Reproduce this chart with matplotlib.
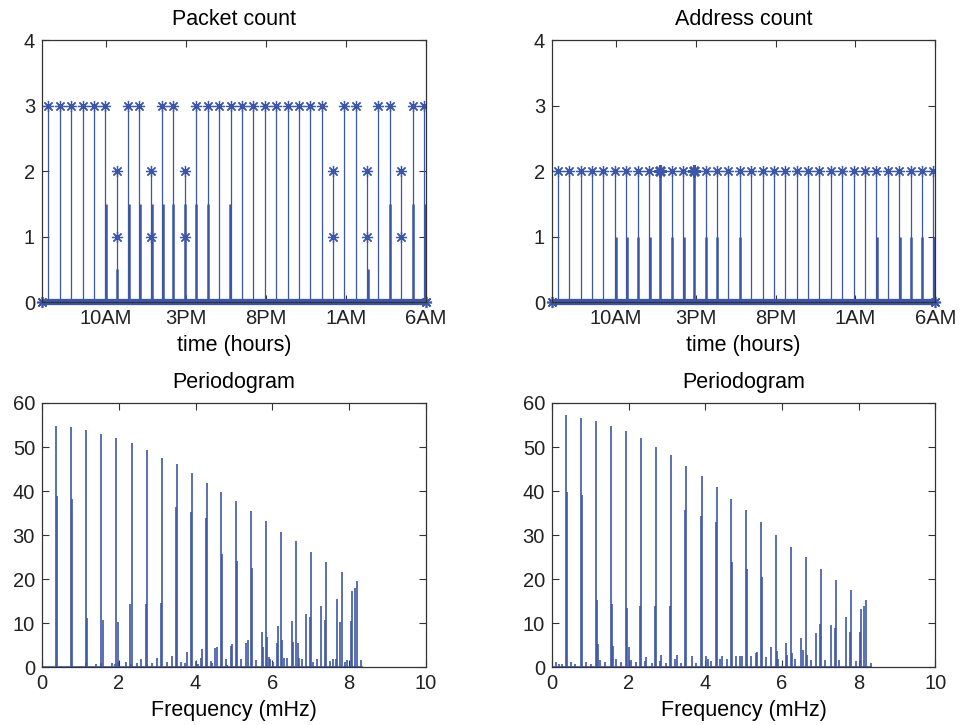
import numpy as np
import matplotlib
matplotlib.use('Agg')
import matplotlib.pyplot as plt

plt.rcParams['font.family'] = ['Liberation Sans', 'DejaVu Sans']
plt.rcParams['font.size'] = 15

BLUE = '#3d57a8'

# ---- time-domain data (hours after 6AM) ----
tick_hours = [4, 9, 14, 19, 24]
tick_names = ['10AM', '3PM', '8PM', '1AM', '6AM']

# packet count: bursts of 3 packets
pkt_t3 = [0.396, 1.125, 1.813, 2.542, 3.25, 3.958, 5.375, 6.083, 7.5, 8.208,
          9.646, 10.354, 11.083, 11.792, 12.5, 13.208, 13.938, 14.646, 15.354,
          16.063, 16.771, 17.479, 18.896, 19.604, 21.021, 21.729, 23.167, 23.875]
# bursts split as 2 + 1 packets
pkt_t2 = [4.667, 6.792, 8.938, 18.188, 20.313, 22.458]
# partial stems (no marker) visible next to the bursts
pkt_tail_t = [4.0, 5.417, 6.125, 6.854, 7.542, 8.208, 8.938, 9.646, 10.354,
              11.75, 21.75, 23.208, 23.94, 4.708, 20.375]
pkt_tail_v = [1.5, 1.5, 1.5, 1.5, 1.5, 1.5, 1.5, 1.5, 1.5,
              1.5, 1.5, 1.5, 1.5, 0.5, 0.5]

# address count
adr_t2 = [0.376, 1.085, 1.795, 2.504, 3.214, 3.944, 4.633, 5.363, 6.073, 6.782,
          7.492, 8.201, 8.911, 9.620, 10.330, 11.039, 11.770, 12.479, 13.189,
          13.898, 14.608, 15.317, 16.027, 16.736, 17.446, 18.177, 18.886, 19.595,
          20.305, 21.014, 21.724, 22.454, 23.164, 23.873]
adr_bold_t = [6.782, 8.911]
adr_tail_t = [3.99, 4.70, 5.40, 6.11, 7.53, 8.24, 9.66, 10.35, 11.75, 20.35,
              21.77, 22.47, 23.2, 23.91]
adr_tail_v = [1.0] * len(adr_tail_t)

# ---- periodograms (frequency in mHz, power) ----
pk_f = [0.365, 0.399, 0.755, 0.790, 1.146, 1.181, 1.545, 1.580, 1.936, 1.970,
        2.335, 2.300, 2.726, 2.700, 3.116, 3.090, 3.507, 3.481, 3.906, 3.880,
        4.297, 4.271, 4.653, 4.688, 5.052, 5.087, 5.443, 5.477, 5.833, 5.868,
        5.729, 5.747, 6.224, 6.137, 6.259, 6.120, 6.623, 6.502, 6.658, 6.536,
        7.014, 6.884, 6.979, 7.405, 7.274, 7.378, 7.804, 7.674, 7.769, 8.073,
        8.038, 8.194, 8.160, 8.30,
        1.15, 1.41, 1.53, 1.81, 1.89, 1.99, 2.20, 2.33, 2.47, 2.59, 2.73, 2.86,
        2.99, 3.25, 3.39, 3.61, 3.72, 3.77, 4.01, 4.05, 4.13, 4.17, 4.40, 4.43,
        4.51, 4.55, 4.79, 4.83, 4.91, 4.95, 5.18, 5.32, 5.36, 5.57, 5.91, 5.94,
        6.01, 6.29, 6.37, 6.68, 6.77, 7.06, 7.16, 7.50, 7.58, 7.65, 7.90, 7.94]
pk_v = [54.8, 38.9, 54.5, 38.3, 53.9, 11.2, 53.0, 10.8, 52.1, 10.2,
        50.9, 14.4, 49.4, 14.4, 47.6, 14.7, 46.1, 36.4, 44.0, 35.2,
        41.8, 34.0, 39.7, 25.8, 37.7, 24.1, 35.5, 22.5, 33.1, 6.8,
        8.0, 4.7, 30.7, 9.3, 6.3, 5.4, 28.6, 10.5, 5.6, 5.8,
        26.1, 12.0, 11.4, 23.8, 13.8, 10.8, 21.6, 15.6, 10.2, 17.4,
        10.5, 19.5, 18.0, 1.6,
        1.0, 0.7, 1.0, 1.0, 0.8, 1.3, 1.3, 0.7, 1.0, 1.8, 0.6, 1.0,
        2.1, 1.3, 2.6, 1.3, 1.0, 3.5, 1.5, 0.8, 2.0, 4.1, 1.4, 1.0,
        4.3, 4.6, 1.8, 0.6, 4.8, 5.2, 1.8, 5.6, 6.2, 1.7, 2.3, 1.9,
        1.1, 2.0, 2.0, 2.0, 1.8, 1.3, 1.8, 1.4, 1.8, 1.8, 1.3, 1.6]

ad_f = [0.365, 0.400, 0.757, 0.791, 1.148, 1.174, 1.19, 1.530, 1.565, 1.60,
        1.930, 1.965, 2.0, 2.322, 2.296, 2.713, 2.687, 3.113, 3.078, 3.504,
        3.478, 3.904, 3.878, 4.296, 4.270, 4.661, 4.696, 5.052, 5.087, 5.452,
        5.487, 5.843, 6.235, 6.626, 7.017, 6.991, 7.417, 7.391, 7.809, 7.783,
        8.183, 8.148, 8.070, 8.035, 7.67, 7.278, 6.878, 6.496, 6.104, 5.713,
        0.10, 0.18, 0.26, 0.49, 0.61, 0.89, 1.01, 1.25, 1.39, 1.66, 1.79, 2.06,
        2.19, 2.42, 2.46, 2.60, 2.81, 2.85, 2.97, 3.22, 3.26, 3.36, 3.66, 3.75,
        4.02, 4.06, 4.16, 4.39, 4.43, 4.56, 4.79, 4.90, 4.95, 5.19, 5.32, 5.35,
        5.58, 5.87, 5.91, 6.14, 6.26, 6.34, 6.54, 6.65, 6.76, 7.12, 7.49, 7.93,
        8.32]
ad_v = [57.3, 39.8, 56.6, 39.2, 56.0, 15.3, 5.2, 54.8, 14.4, 4.9,
        53.6, 13.5, 4.6, 52.1, 13.8, 50.0, 13.8, 48.1, 13.8, 45.8,
        35.8, 43.4, 34.3, 41.0, 32.9, 38.3, 24.0, 35.6, 22.3, 32.9,
        20.4, 30.1, 27.3, 25.0, 22.2, 9.9, 19.9, 9.0, 17.5, 8.1,
        15.3, 14.0, 13.3, 8.1, 11.5, 9.6, 7.7, 6.6, 5.4, 4.5,
        1.1, 0.8, 0.8, 1.3, 0.8, 1.3, 0.7, 1.6, 1.1, 1.8, 1.1, 1.6,
        1.1, 1.4, 2.3, 0.9, 1.5, 2.7, 0.9, 1.9, 2.7, 0.9, 2.5, 0.9,
        2.5, 1.9, 1.4, 1.9, 2.5, 1.9, 2.5, 2.5, 2.5, 2.5, 3.3, 3.5,
        2.3, 3.8, 1.9, 2.9, 3.3, 1.9, 3.9, 2.9, 1.6, 1.6, 1.6, 1.5,
        1.0]
f_nyquist = 8.33

STAR = (8, 2, 0)  # asterisk like MATLAB's '*'
TXT = 15.5   # titles and axis labels
TICK = 14.5  # tick labels


def style_axes(ax):
    ax.tick_params(direction='in', length=5, width=0.8, top=True, right=True,
                   colors='#333333', labelcolor='#222222', labelsize=TICK, pad=5)
    for s in ax.spines.values():
        s.set_color('#333333')
        s.set_linewidth(0.9)


def stem_panel(ax, title, t_full, v_full, t_half, tail_t, tail_v, bold_t=()):
    ax.vlines(t_full, 0, v_full, color=BLUE, lw=0.9)
    ax.plot(t_full, [v_full] * len(t_full), ls='none', marker=STAR, ms=8,
            mec=BLUE, mew=0.9, color=BLUE)
    if t_half:
        ax.vlines(t_half, 0, 2, color=BLUE, lw=0.9)
        ax.plot(t_half, [2] * len(t_half), ls='none', marker=STAR, ms=8,
                mec=BLUE, mew=0.9)
        ax.plot(t_half, [1] * len(t_half), ls='none', marker=STAR, ms=8,
                mec=BLUE, mew=0.9)
    ax.vlines(tail_t, 0, tail_v, color=BLUE, lw=1.8)
    if bold_t:
        ax.vlines(bold_t, 0, v_full, color=BLUE, lw=1.8)
        ax.plot(bold_t, [v_full] * len(bold_t), ls='none', marker=STAR, ms=9,
                mec=BLUE, mew=1.8)
    # dense zero-valued samples form a thick band at 0
    ax.plot([0, 24], [0, 0], color=BLUE, lw=4.5, solid_capstyle='butt',
            clip_on=False, zorder=2)
    ax.plot([0, 24], [0, 0], ls='none', marker=STAR, ms=8, mec=BLUE, mew=1.2,
            clip_on=False, zorder=2)
    ax.set_xlim(0, 24)
    ax.set_ylim(0, 4)
    ax.set_yticks([0, 1, 2, 3, 4])
    ax.set_xticks(tick_hours)
    ax.set_xticklabels(tick_names)
    ax.set_title(title, fontsize=TXT, pad=11)
    ax.set_xlabel('time (hours)', fontsize=TXT, labelpad=5)
    style_axes(ax)


def spectrum_panel(ax, f, v):
    ax.vlines(f, 0, v, color=BLUE, lw=1.2)
    ax.plot([0, f_nyquist], [0.15, 0.15], color=BLUE, lw=1.2)
    ax.set_xlim(0, 10)
    ax.set_ylim(0, 60)
    ax.set_xticks([0, 2, 4, 6, 8, 10])
    ax.set_yticks([0, 10, 20, 30, 40, 50, 60])
    ax.set_title('Periodogram', fontsize=TXT, pad=11)
    ax.set_xlabel('Frequency (mHz)', fontsize=TXT, labelpad=5)
    style_axes(ax)


fig = plt.figure(figsize=(9.61, 7.25), dpi=100)
ax1 = fig.add_axes([0.0437, 0.5834, 0.3996, 0.3614])
ax2 = fig.add_axes([0.5744, 0.5834, 0.3988, 0.3614])
ax3 = fig.add_axes([0.0437, 0.0796, 0.3996, 0.3646])
ax4 = fig.add_axes([0.5744, 0.0796, 0.3988, 0.3646])

stem_panel(ax1, 'Packet count', pkt_t3, 3, pkt_t2, pkt_tail_t, pkt_tail_v)
stem_panel(ax2, 'Address count', adr_t2, 2, [], adr_tail_t, adr_tail_v,
           bold_t=adr_bold_t)
spectrum_panel(ax3, pk_f, pk_v)
spectrum_panel(ax4, ad_f, ad_v)

fig.savefig('out.png', dpi=100)
